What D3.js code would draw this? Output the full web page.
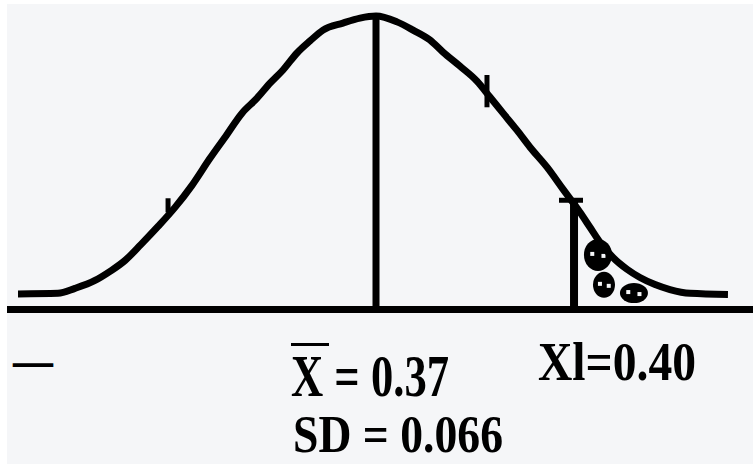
<!DOCTYPE html>
<html>
<head>
<meta charset="utf-8">
<script src="https://cdn.jsdelivr.net/npm/d3@7"></script>
<style>
  html, body { margin: 0; padding: 0; background: #ffffff; }
  svg { display: block; }
  text { font-family: "Liberation Serif", "DejaVu Serif", serif; font-weight: bold; fill: #000; }
</style>
</head>
<body>
<script>
// Bell curve, sampled in standard units (z) with relative height (peak = 1)
const curveZ = [-3.500, -3.109, -2.943, -2.747, -2.600, -2.454, -2.297, -2.131, -1.965, -1.799,
                -1.623, -1.476, -1.310, -1.163, -1.036, -0.909, -0.772, -0.645, -0.518, -0.323,
                -0.156, 0.000, 0.205, 0.362, 0.528, 0.655, 0.821, 0.987, 1.114, 1.242,
                1.378, 1.506, 1.672, 1.828, 1.994, 2.092, 2.190, 2.317, 2.454, 2.581,
                2.728, 2.874, 3.070, 3.441];
const curveH = [0.053, 0.055, 0.072, 0.099, 0.130, 0.167, 0.222, 0.283, 0.348, 0.423,
                0.515, 0.587, 0.669, 0.720, 0.771, 0.816, 0.874, 0.915, 0.952, 0.976,
                0.993, 1.000, 0.980, 0.952, 0.918, 0.877, 0.829, 0.778, 0.724, 0.669,
                0.611, 0.553, 0.485, 0.410, 0.331, 0.280, 0.229, 0.177, 0.137, 0.109,
                0.085, 0.068, 0.055, 0.051];

// Summary statistics shown under the curve
const meanValue = 0.37;
const sdValue = 0.066;
const cutValue = 0.40;

// Positions (standard units) of the mean line and the lower bound of the shaded tail
const meanZ = 0;
const cutZ = 1.936;
const cutTopH = 0.379;

// Small hash marks on the curve
const stubZ = [-2.033, 1.085];
const stubTopH = [0.379, 0.799];
const stubBottomH = [0.331, 0.689];

// Shading marks inside the upper tail
const shadeZ = [2.170, 2.229, 2.522];
const shadeH = [0.186, 0.084, 0.056];

const W = 753, H = 464;

const svg = d3.select("body").append("svg")
  .attr("width", W).attr("height", H);

// screen panel
svg.append("rect").attr("x", 7).attr("y", 4)
  .attr("width", W - 7).attr("height", H - 4)
  .attr("fill", "#f5f6f8");

const x = d3.scaleLinear().domain([-3.5, 3.5]).range([18, 734]);
const y = d3.scaleLinear().domain([0, 1]).range([309.5, 16]);

const pts = curveZ.map((z, i) => [z, curveH[i]]);

// horizontal axis
svg.append("line")
  .attr("x1", 7).attr("x2", W)
  .attr("y1", y(0)).attr("y2", y(0))
  .attr("stroke", "#000").attr("stroke-width", 7);

// mean line
svg.append("line")
  .attr("x1", x(meanZ)).attr("x2", x(meanZ))
  .attr("y1", y(0)).attr("y2", y(1))
  .attr("stroke", "#000").attr("stroke-width", 7);

// lower bound of the shaded region
svg.append("line")
  .attr("x1", x(cutZ)).attr("x2", x(cutZ))
  .attr("y1", y(0)).attr("y2", y(cutTopH))
  .attr("stroke", "#000").attr("stroke-width", 8);
svg.append("line")
  .attr("x1", x(cutZ) - 15).attr("x2", x(cutZ) + 9)
  .attr("y1", y(cutTopH) + 2).attr("y2", y(cutTopH) + 2)
  .attr("stroke", "#000").attr("stroke-width", 5);

// shading marks
const marks = svg.append("g");
shadeZ.forEach((z, i) => {
  const cx = x(z), cy = y(shadeH[i]);
  const rx = i === 1 ? 11 : 14, ry = i === 2 ? 10 : (i === 1 ? 13 : 16);
  marks.append("ellipse").attr("cx", cx).attr("cy", cy)
    .attr("rx", rx).attr("ry", ry).attr("fill", "#000");
  marks.append("rect").attr("x", cx - rx * 0.55).attr("y", cy - 3)
    .attr("width", 4).attr("height", 4).attr("fill", "#f5f6f8");
  marks.append("rect").attr("x", cx + rx * 0.25).attr("y", cy - 1)
    .attr("width", 4).attr("height", 4).attr("fill", "#f5f6f8");
});

// the curve
const line = d3.line()
  .x(d => x(d[0])).y(d => y(d[1]))
  .curve(d3.curveMonotoneX);

svg.append("path")
  .datum(pts)
  .attr("d", line)
  .attr("fill", "none")
  .attr("stroke", "#000")
  .attr("stroke-width", 7)
  .attr("stroke-linejoin", "round");

// hash marks
stubZ.forEach((z, i) => {
  svg.append("line")
    .attr("x1", x(z)).attr("x2", x(z))
    .attr("y1", y(stubTopH[i])).attr("y2", y(stubBottomH[i]))
    .attr("stroke", "#000").attr("stroke-width", 5);
});

// labels
const f2 = d3.format(".2f"), f3 = d3.format(".3f");

svg.append("text")
  .attr("x", 13).attr("y", 378)
  .attr("font-size", 52)
  .attr("textLength", 40).attr("lengthAdjust", "spacingAndGlyphs")
  .text("\u2014");

// x-bar
svg.append("line")
  .attr("x1", 291).attr("x2", 329)
  .attr("y1", 344.5).attr("y2", 344.5)
  .attr("stroke", "#000").attr("stroke-width", 3);

svg.append("text")
  .attr("x", 291).attr("y", 396)
  .attr("font-size", 59)
  .attr("textLength", 158).attr("lengthAdjust", "spacingAndGlyphs")
  .text("X = " + f2(meanValue));

svg.append("text")
  .attr("x", 538).attr("y", 380)
  .attr("font-size", 55)
  .attr("textLength", 158).attr("lengthAdjust", "spacingAndGlyphs")
  .text("Xl=" + f2(cutValue));

svg.append("text")
  .attr("x", 293).attr("y", 452)
  .attr("font-size", 52)
  .attr("textLength", 210).attr("lengthAdjust", "spacingAndGlyphs")
  .text("SD = " + f3(sdValue));
</script>
</body>
</html>
